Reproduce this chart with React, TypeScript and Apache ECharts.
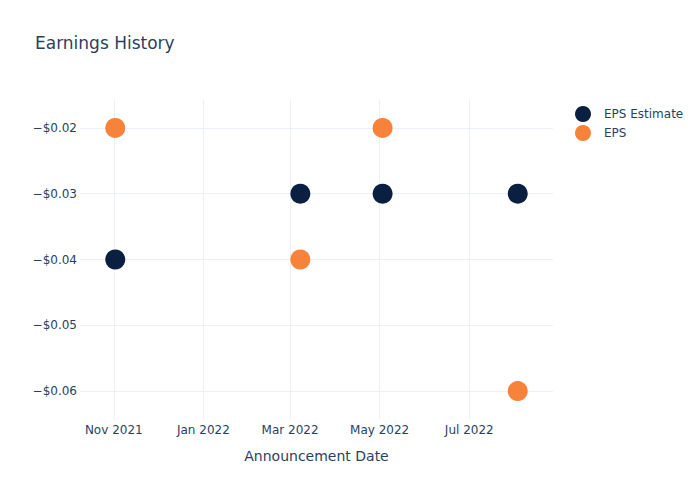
import React, { useEffect, useRef } from "react";
import * as echarts from "echarts";

const dates = ["2021-11-02", "2022-03-08", "2022-05-03", "2022-08-03"];
const epsEstimate = [-0.04, -0.03, -0.03, -0.03];
const eps = [-0.02, -0.04, -0.02, -0.06];
const yTicks = [-0.06, -0.05, -0.04, -0.03, -0.02];
const xTicks = ["2021-11-01", "2022-01-01", "2022-03-01", "2022-05-01", "2022-07-01"];
const months = ["Jan", "Feb", "Mar", "Apr", "May", "Jun", "Jul", "Aug", "Sep", "Oct", "Nov", "Dec"];

const FONT = "DejaVu Sans";
const TXT = "#2a3f5f";
const GRID = "#EBF0F8";

const ts = (s: string) => {
  const [y, m, d] = s.split("-").map(Number);
  return Date.UTC(y, m - 1, d);
};

export default function App() {
  const ref = useRef<HTMLDivElement>(null);
  useEffect(() => {
    if (!ref.current) return;
    const chart = echarts.init(ref.current, undefined, { renderer: "svg" });
    const xTickVals = xTicks.map(ts);
    chart.setOption({
      animation: false,
      backgroundColor: "#fff",
      title: {
        text: "Earnings History",
        left: 30,
        top: 29,
        textStyle: { fontFamily: FONT, fontSize: 17, fontWeight: "normal", color: TXT },
      },
      legend: {
        orient: "vertical",
        left: 570,
        top: 101,
        itemWidth: 16,
        itemHeight: 16,
        itemGap: 3,
        icon: "circle",
        textStyle: { fontFamily: FONT, fontSize: 12, color: TXT, padding: [0, 0, 0, 8] },
        data: ["EPS Estimate", "EPS"],
      },
      grid: { left: 80, right: 147, top: 100, bottom: 81, containLabel: false },
      xAxis: {
        type: "value",
        min: ts("2021-10-09"),
        max: ts("2022-08-27"),
        name: "Announcement Date",
        nameLocation: "middle",
        nameGap: 30,
        nameTextStyle: { fontFamily: FONT, fontSize: 14, color: TXT },
        axisLine: { show: false },
        axisTick: { show: false, customValues: xTickVals },
        splitLine: { show: true, lineStyle: { color: GRID, width: 1 } },
        axisLabel: {
          customValues: xTickVals,
          margin: 5,
          fontFamily: FONT,
          fontSize: 12,
          color: TXT,
          hideOverlap: false,
          formatter: (v: number) => {
            const d = new Date(v);
            return months[d.getUTCMonth()] + " " + d.getUTCFullYear();
          },
        },
      },
      yAxis: {
        type: "value",
        min: -0.06424,
        max: -0.01576,
        axisLine: { show: false },
        axisTick: { show: false, customValues: yTicks },
        splitLine: { show: true, lineStyle: { color: GRID, width: 1 } },
        axisLabel: {
          customValues: yTicks,
          margin: 3,
          fontFamily: FONT,
          fontSize: 12,
          color: TXT,
          formatter: (v: number) => "\u2212$" + Math.abs(v).toFixed(2),
        },
      },
      series: [
        {
          name: "EPS Estimate",
          type: "scatter",
          symbol: "circle",
          symbolSize: 20,
          itemStyle: { color: "#0b2041", opacity: 1 },
          data: dates.map((d, i) => [ts(d), epsEstimate[i]]),
        },
        {
          name: "EPS",
          type: "scatter",
          symbol: "circle",
          symbolSize: 20,
          itemStyle: { color: "#f7823a", opacity: 1 },
          data: dates.map((d, i) => [ts(d), eps[i]]),
        },
      ],
    });
    return () => chart.dispose();
  }, []);
  return (
    <div
      ref={ref}
      style={{ position: "absolute", left: 0, top: 0, width: 700, height: 500 }}
    />
  );
}
